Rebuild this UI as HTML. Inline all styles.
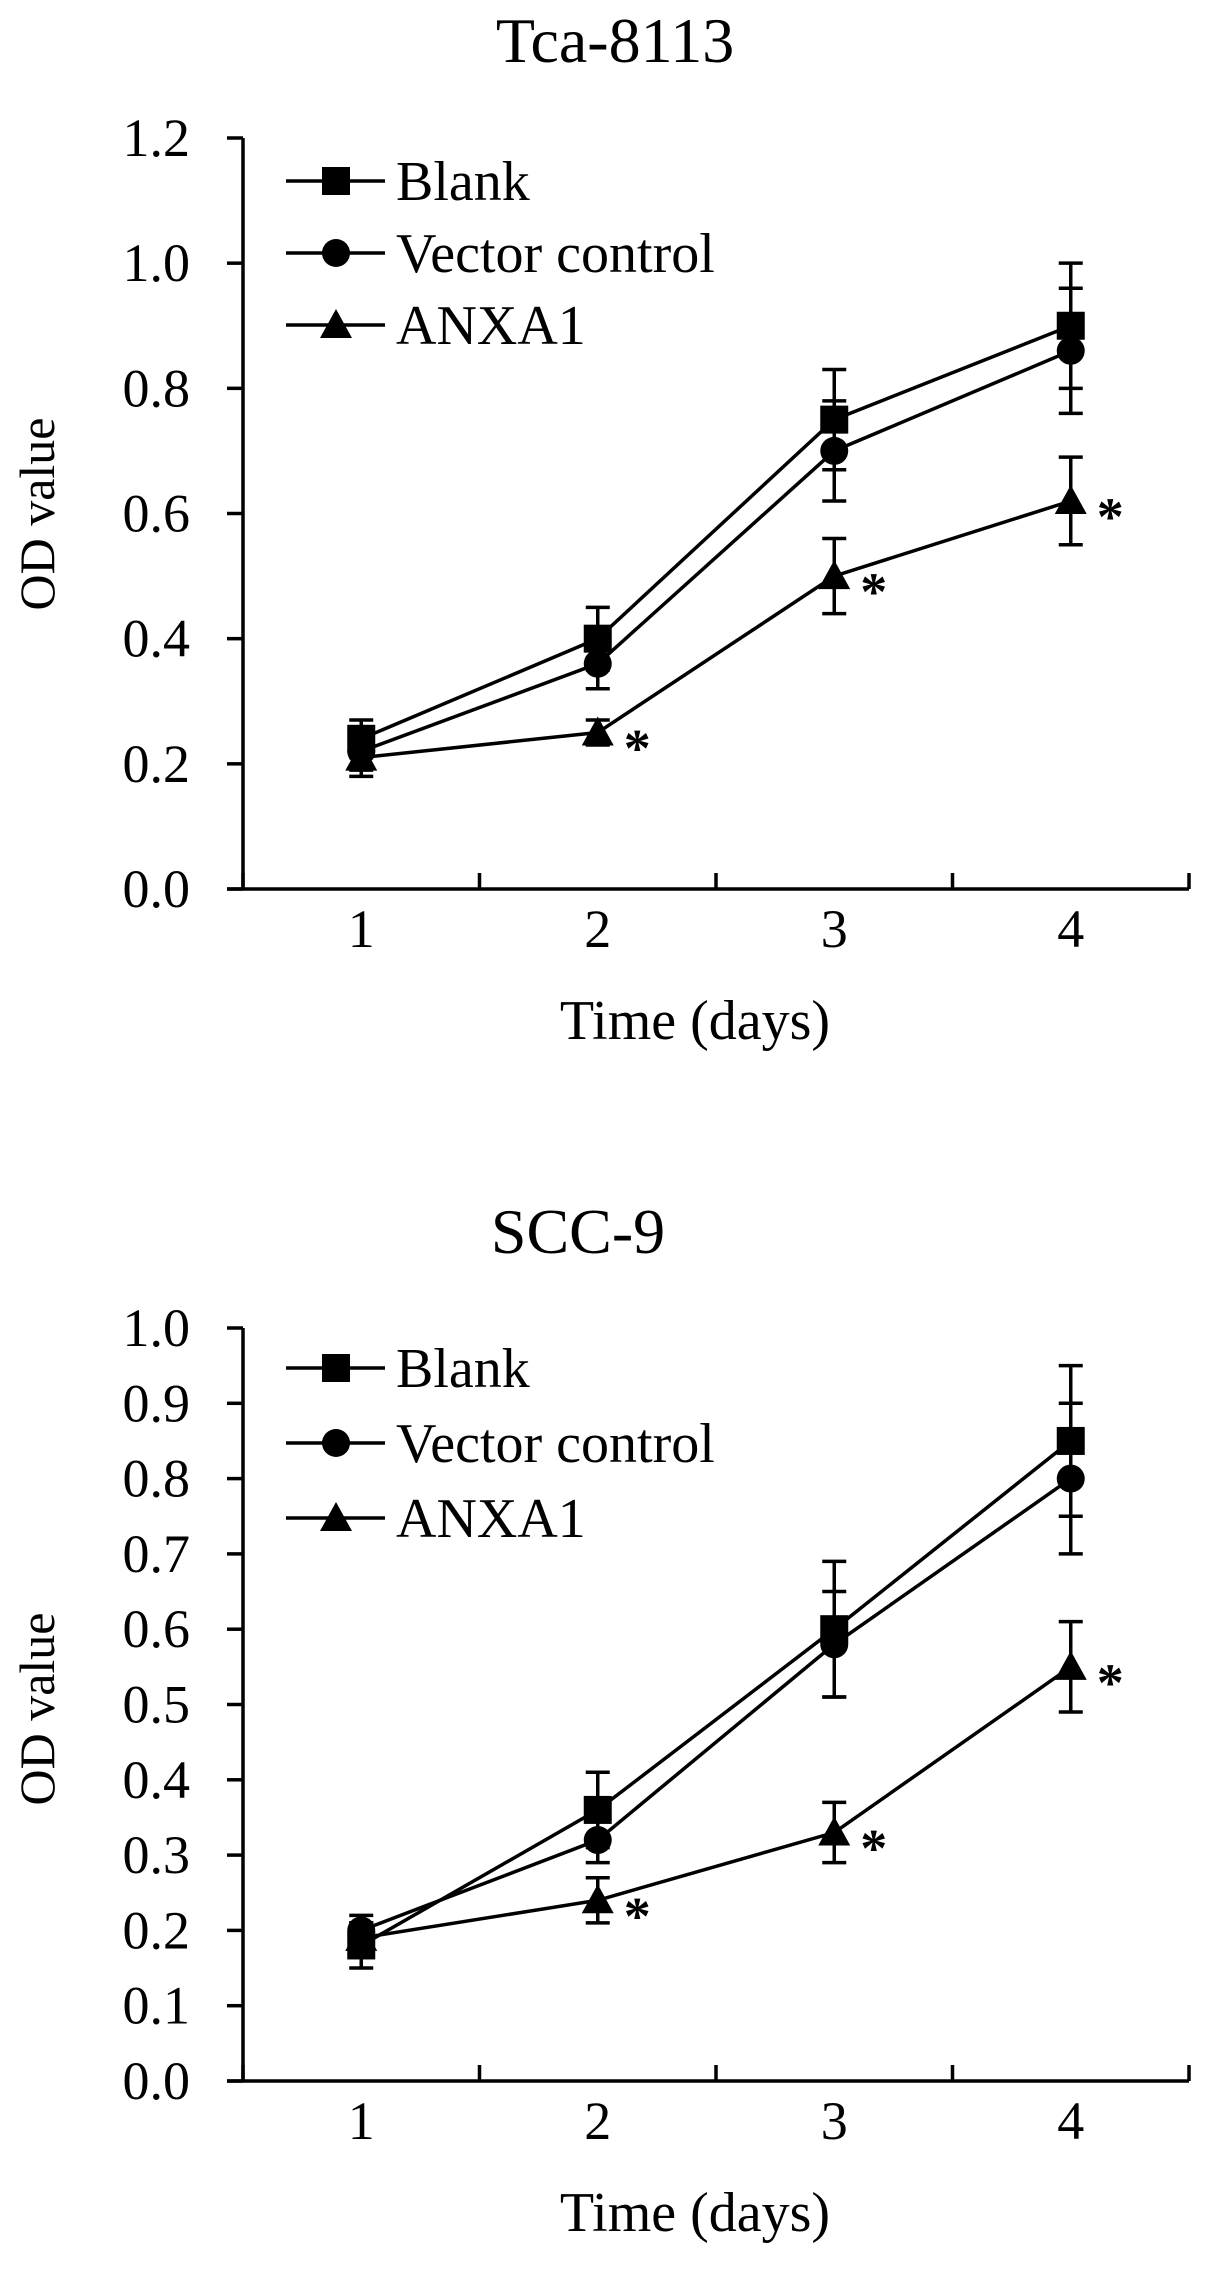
<!DOCTYPE html>
<html><head><meta charset="utf-8"><style>
body{margin:0;background:#fff}
svg{display:block;font-family:"Liberation Serif",serif}
</style></head><body>
<svg id="fig" width="1205" height="2270" viewBox="0 0 1205 2270"></svg>
<script>
const days = [1, 2, 3, 4];
const topTicks = ["0.0","0.2","0.4","0.6","0.8","1.0","1.2"];
const topBlank = [0.24, 0.40, 0.75, 0.90];
const topBlankErr = [0.03, 0.05, 0.08, 0.10];
const topVector = [0.22, 0.36, 0.70, 0.86];
const topVectorErr = [0.03, 0.04, 0.08, 0.10];
const topAnxa = [0.21, 0.25, 0.50, 0.62];
const topAnxaErr = [0.03, 0.02, 0.06, 0.07];
const botTicks = ["0.0","0.1","0.2","0.3","0.4","0.5","0.6","0.7","0.8","0.9","1.0"];
const botBlank = [0.18, 0.36, 0.60, 0.85];
const botBlankErr = [0.03, 0.05, 0.09, 0.10];
const botVector = [0.20, 0.32, 0.58, 0.80];
const botVectorErr = [0.02, 0.03, 0.07, 0.10];
const botAnxa = [0.19, 0.24, 0.33, 0.55];
const botAnxaErr = [0.02, 0.03, 0.04, 0.06];
const sigDays = [2, 3, 4];

const NS = "http://www.w3.org/2000/svg";
const svg = document.getElementById("fig");
function mk(tag, attrs, parent, text) {
  const e = document.createElementNS(NS, tag);
  for (const k in attrs) e.setAttribute(k, attrs[k]);
  if (text !== undefined) e.textContent = text;
  (parent || svg).appendChild(e);
  return e;
}
function marker(g, type, x, y) {
  let m;
  if (type === "square") m = mk("rect", {x: x-14, y: y-14, width: 28, height: 28, fill: "#000"}, g);
  else if (type === "circle") m = mk("circle", {cx: x, cy: y, r: 14, fill: "#000"}, g);
  else m = mk("polygon", {points: `${x},${y-16} ${x+16},${y+13} ${x-16},${y+13}`, fill: "#000"}, g);
  return m;
}
function chart(o) {
  const x0 = 243, x1 = 1189, cw = (x1 - x0) / 4;
  const xs = d => x0 + cw * (d - 0.5);
  const ys = v => o.y0 - (v / o.max) * (o.y0 - o.ytop);
  const g = mk("g", {});
  
  
  const t = mk("text", {x: o.titleX, y: o.titleY, "font-size": 64, "text-anchor": "middle"}, g, o.title);
  
  
  const ax = mk("g", {stroke: "#000", "stroke-width": 3.5}, g);
  
  
  mk("line", {x1: x0, y1: o.ytop, x2: x0, y2: o.y0}, ax);
  mk("line", {x1: x0 - 16, y1: o.y0, x2: x1, y2: o.y0}, ax);
  for (let i = 0; i <= 4; i++) mk("line", {x1: x0 + cw*i, y1: o.y0, x2: x0 + cw*i, y2: o.y0 - 16}, ax);
  o.ticks.forEach((lab, i) => {
    const v = i * o.max / (o.ticks.length - 1);
    mk("line", {x1: x0 - 16, y1: ys(v), x2: x0, y2: ys(v)}, ax);
    const tl = mk("text", {x: 190, y: ys(v) + 18, "font-size": 54, "text-anchor": "end"}, g, lab);
    
    
  });
  days.forEach(d => {
    const tl = mk("text", {x: xs(d), y: o.y0 + 58, "font-size": 54, "text-anchor": "middle"}, g, String(d));
    
    
  });
  const xt = mk("text", {x: 695, y: o.y0 + 150, "font-size": 56, "text-anchor": "middle"}, g, "Time (days)");
  
  
  const yt = mk("text", {x: 0, y: 0, "font-size": 50, "text-anchor": "middle", transform: `translate(54,${o.yLabY}) rotate(-90)`}, g, "OD value");
  
  
  o.series.forEach(s => {
    const sg = mk("g", {}, g);
    
    
    const pl = mk("polyline", {points: days.map((d,i) => xs(d) + "," + ys(s.vals[i])).join(" "), fill: "none", stroke: "#000", "stroke-width": 3.5}, sg);
    
    
    days.forEach((d, i) => {
      const x = xs(d), yh = ys(s.vals[i] + s.err[i]), yl = ys(s.vals[i] - s.err[i]);
      const eb = mk("path", {d: `M${x},${yh}V${yl}M${x-12},${yh}H${x+12}M${x-12},${yl}H${x+12}`, stroke: "#000", "stroke-width": 3.5, fill: "none"}, sg);
      
      
      const m = marker(sg, s.shape, x, ys(s.vals[i]));
      
      
    });
  });
  const an = o.series[2];
  sigDays.forEach(d => {
    const i = days.indexOf(d);
    const st = mk("text", {x: xs(d) + 26, y: ys(an.vals[i]) + 34, "font-size": 54, "font-weight": "bold"}, g, "*");
    
    
  });
  const lg = mk("g", {}, g);
  
  
  o.series.forEach((s, i) => {
    const y = o.legY[i];
    const e = mk("g", {}, lg);
    
    
    mk("line", {x1: 286, y1: y, x2: 385, y2: y, stroke: "#000", "stroke-width": 3.5}, e);
    marker(e, s.shape, 336, y);
    mk("text", {x: 396, y: y + 19, "font-size": 56}, e, s.label);
  });
}
chart({name: "chart-tca-8113", title: "Tca-8113", titleX: 615, titleY: 62, y0: 889, ytop: 138, max: 1.2,
  ticks: topTicks, yLabY: 514, legY: [181, 253, 325],
  series: [
    {key: "blank", label: "Blank", shape: "square", vals: topBlank, err: topBlankErr},
    {key: "vector", label: "Vector control", shape: "circle", vals: topVector, err: topVectorErr},
    {key: "anxa1", label: "ANXA1", shape: "triangle", vals: topAnxa, err: topAnxaErr}]});
chart({name: "chart-scc-9", title: "SCC-9", titleX: 578, titleY: 1253, y0: 2081, ytop: 1328, max: 1.0,
  ticks: botTicks, yLabY: 1709, legY: [1368, 1443, 1518],
  series: [
    {key: "blank", label: "Blank", shape: "square", vals: botBlank, err: botBlankErr},
    {key: "vector", label: "Vector control", shape: "circle", vals: botVector, err: botVectorErr},
    {key: "anxa1", label: "ANXA1", shape: "triangle", vals: botAnxa, err: botAnxaErr}]});
</script>
</body></html>
